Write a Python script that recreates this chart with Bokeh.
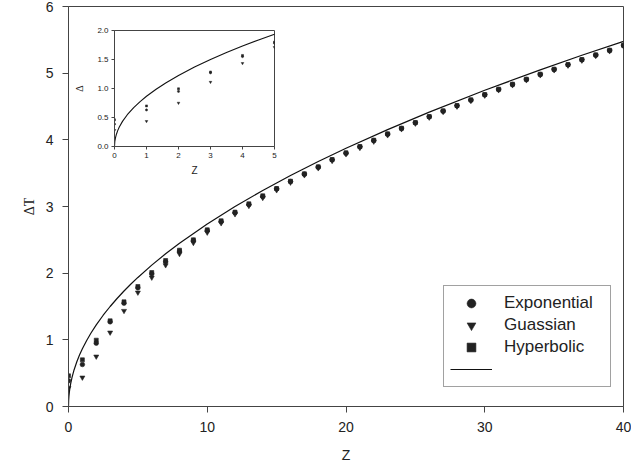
from bokeh.plotting import figure
from bokeh.models import Range1d, Legend, LegendItem, FixedTicker, GridBox, PrintfTickFormatter
from bokeh.embed import file_html
from bokeh.resources import INLINE

# ---- data ----
z = list(range(41))
exponential = [0.385, 0.63, 0.95, 1.27, 1.55, 1.78, 1.99, 2.17, 2.33, 2.49, 2.64, 2.775, 2.91, 3.03,
               3.15, 3.265, 3.375, 3.485, 3.59, 3.70, 3.80, 3.895, 3.99, 4.085, 4.17, 4.255, 4.345,
               4.43, 4.51, 4.595, 4.675, 4.755, 4.83, 4.905, 4.98, 5.055, 5.125, 5.20, 5.27, 5.34, 5.415]
gaussian = [0.28, 0.435, 0.75, 1.11, 1.435, 1.71, 1.935, 2.12, 2.29, 2.455, 2.61, 2.75, 2.885, 3.01,
            3.13, 3.245, 3.36, 3.47, 3.575, 3.685, 3.785, 3.88, 3.975, 4.07, 4.16, 4.245, 4.335, 4.42,
            4.50, 4.585, 4.665, 4.745, 4.82, 4.895, 4.97, 5.045, 5.115, 5.19, 5.26, 5.33, 5.405]
hyperbolic = [0.46, 0.70, 0.995, 1.285, 1.57, 1.80, 2.01, 2.19, 2.345, 2.50, 2.65, 2.785, 2.915, 3.04,
              3.16, 3.27, 3.38, 3.49, 3.595, 3.705, 3.805, 3.90, 3.995, 4.09, 4.175, 4.26, 4.35, 4.435,
              4.515, 4.60, 4.68, 4.76, 4.835, 4.91, 4.985, 5.06, 5.13, 5.205, 5.275, 5.345, 5.42]
curve_z = [0, 0.01, 0.03, 0.06, 0.1, 0.15, 0.25, 0.4, 0.6, 0.8, 1, 1.3, 1.6, 2, 2.5, 3, 3.5, 4, 4.5,
           5, 6, 7, 8, 10, 12, 14, 16, 18, 20, 23, 26, 30, 34, 37, 40]
curve_dt = [0, 0.087, 0.15, 0.212, 0.274, 0.335, 0.433, 0.548, 0.671, 0.775, 0.866, 0.987, 1.095,
            1.225, 1.369, 1.5, 1.62, 1.732, 1.837, 1.936, 2.121, 2.291, 2.449, 2.739, 3.0, 3.24,
            3.464, 3.674, 3.873, 4.153, 4.416, 4.743, 5.05, 5.268, 5.477]
series_labels = ["Exponential", "Guassian", "Hyperbolic"]
x_ticks = [0, 10, 20, 30, 40]
y_ticks = [0, 1, 2, 3, 4, 5, 6]
inset_x_ticks = [0, 1, 2, 3, 4, 5]
inset_y_ticks = [0, 0.5, 1.0, 1.5, 2.0]

INK = "#222222"
AXIS = "#444444"
SANS = "Liberation Sans"
SERIF = "Liberation Serif"

BORDERS = dict(min_border_left=68, min_border_right=8, min_border_top=6, min_border_bottom=66)


def style_axes(fig, tick_size, label_size, tick_out, label_standoff, axis_standoff):
    for ax in (fig.xaxis, fig.yaxis):
        ax.axis_line_color = AXIS
        ax.major_tick_line_color = AXIS
        ax.major_tick_out = tick_out
        ax.major_tick_in = 0
        ax.minor_tick_out = 0
        ax.minor_tick_in = 0
        ax.major_label_text_font = SANS
        ax.major_label_text_font_size = tick_size
        ax.major_label_text_color = INK
        ax.major_label_standoff = label_standoff
        ax.axis_label_text_font_size = label_size
        ax.axis_label_text_font_style = "normal"
        ax.axis_label_text_color = INK
        ax.axis_label_standoff = axis_standoff
    fig.xaxis.axis_label_text_font = SANS
    fig.yaxis.axis_label_text_font = SERIF
    fig.xgrid.visible = False
    fig.ygrid.visible = False
    fig.outline_line_color = AXIS
    fig.outline_line_alpha = 1.0


# ---- main plot ----
p = figure(width=631, height=472, x_range=Range1d(0, 40), y_range=Range1d(0, 6),
           output_backend="svg", toolbar_location=None, **BORDERS,
           x_axis_label="Z", y_axis_label="\u0394T")
p.xaxis.ticker = FixedTicker(ticks=x_ticks, minor_ticks=[])
p.yaxis.ticker = FixedTicker(ticks=y_ticks, minor_ticks=[])
style_axes(p, "14px", "14px", 6, 9, 12)
p.yaxis.axis_label_standoff = 6

r_exp = p.scatter(z, exponential, marker="circle", size=4.6, fill_color=INK, line_color=INK, line_width=0.6)
r_gau = p.scatter(z, gaussian, marker="inverted_triangle", size=5.0, fill_color=INK, line_color=INK, line_width=0.6)
r_hyp = p.scatter(z, hyperbolic, marker="square", size=4.0, fill_color=INK, line_color=INK, line_width=0.6)
r_line = p.line(curve_z, curve_dt, line_color="#111111", line_width=1.2)

legend = Legend(items=[
    LegendItem(label=series_labels[0], renderers=[r_exp]),
    LegendItem(label=series_labels[1], renderers=[r_gau]),
    LegendItem(label=series_labels[2], renderers=[r_hyp]),
    LegendItem(label=" ", renderers=[r_line]),
], location=(375, 19))
legend.margin = 0
legend.padding = 6
legend.spacing = 0
legend.glyph_width = 42
legend.glyph_height = 22
legend.label_height = 22
legend.label_width = 100
legend.label_standoff = 12
legend.label_text_font = SANS
legend.label_text_font_size = "17px"
legend.label_text_color = INK
legend.border_line_color = AXIS
legend.border_line_width = 1
legend.background_fill_color = "white"
legend.background_fill_alpha = 1.0
p.add_layout(legend, "center")

# ---- inset (frame 160 x 116, frame top-left at (114, 30)) ----
q = figure(frame_width=160, frame_height=116, x_range=Range1d(0, 5), y_range=Range1d(0, 2),
           output_backend="svg", toolbar_location=None, **BORDERS,
           x_axis_label="Z", y_axis_label="\u0394")
q.xaxis.ticker = FixedTicker(ticks=inset_x_ticks, minor_ticks=[])
q.yaxis.ticker = FixedTicker(ticks=inset_y_ticks, minor_ticks=[])
q.yaxis.formatter = PrintfTickFormatter(format="%.1f")
style_axes(q, "8px", "10px", 3, 3, 4)
q.yaxis.axis_label_standoff = 9
q.background_fill_color = None
q.border_fill_color = None
q.scatter(z, exponential, marker="circle", size=2.2, fill_color=INK, line_color=INK, line_width=0.5)
q.scatter(z, gaussian, marker="inverted_triangle", size=2.6, fill_color=INK, line_color=INK, line_width=0.5)
q.scatter(z, hyperbolic, marker="square", size=2.0, fill_color=INK, line_color=INK, line_width=0.5)
q.line(curve_z, curve_dt, line_color="#111111", line_width=1.1)
q.margin = (30 - 6, 0, 0, 114 - 68)
q.align = "start"

layout = GridBox(children=[(p, 0, 0), (q, 0, 0)])

open("out.html", "w").write(file_html(layout, INLINE))
